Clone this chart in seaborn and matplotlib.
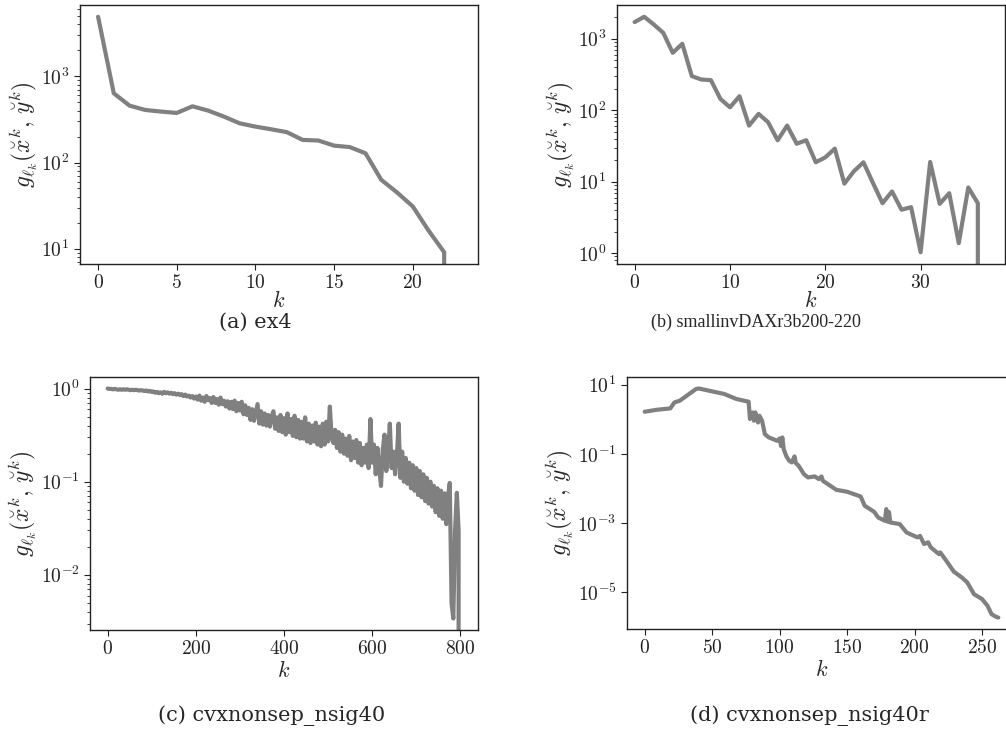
import numpy as np
import pandas as pd
import matplotlib
matplotlib.use("Agg")
import matplotlib.pyplot as plt
from matplotlib.ticker import FuncFormatter, NullFormatter
import seaborn as sns

# ---------------- data ----------------
# (a) ex4
k_a = list(range(0, 24))
g_a = [4910, 635, 457, 407, 390, 376, 449, 400, 341, 285, 261, 243, 225,
       183, 180, 157, 151, 128, 63, 45, 31, 16.3, 9.1, 0]

# (b) smallinvDAXr3b200-220
k_b = list(range(0, 38))
g_b = [1714, 2034, 1589, 1213, 637, 851, 300, 269, 264, 144, 110, 157, 61,
       89, 68, 38, 61, 34, 38, 18.7, 21.9, 29, 9.4, 14, 18.7, 9.6, 5.0, 7.3,
       4.05, 4.4, 1.03, 18.9, 4.9, 6.9, 1.38, 8.3, 5.0, 0]

# (c) cvxnonsep_nsig40  (sampled every 4 iterations)
k_c = list(range(0, 801, 4))
g_c = [1.00, 0.99, 0.99, 0.98, 0.99, 0.98, 0.97, 0.98, 0.97, 0.98,
       0.97, 0.98, 0.97, 0.96, 0.97, 0.96, 0.97, 0.96, 0.95, 0.96,
       0.95, 0.94, 0.95, 0.93, 0.94, 0.92, 0.93, 0.90, 0.92, 0.89,
       0.91, 0.88, 0.92, 0.89, 0.91, 0.88, 0.90, 0.87, 0.89, 0.86,
       0.88, 0.85, 0.87, 0.83, 0.86, 0.82, 0.84, 0.80, 0.83, 0.78,
       0.82, 0.76, 0.84, 0.74, 0.80, 0.72, 0.83, 0.75, 0.79, 0.70,
       0.81, 0.70, 0.77, 0.67, 0.80, 0.68, 0.74, 0.64, 0.73, 0.61,
       0.72, 0.60, 0.74, 0.57, 0.70, 0.58, 0.72, 0.53, 0.66, 0.52,
       0.62, 0.46, 0.60, 0.45, 0.55, 0.68, 0.42, 0.57, 0.41, 0.54,
       0.40, 0.52, 0.39, 0.50, 0.57, 0.37, 0.49, 0.35, 0.52, 0.34,
       0.48, 0.32, 0.54, 0.34, 0.47, 0.31, 0.51, 0.30, 0.46, 0.29,
       0.44, 0.29, 0.49, 0.27, 0.42, 0.26, 0.40, 0.27, 0.43, 0.25,
       0.39, 0.24, 0.42, 0.25, 0.44, 0.27, 0.64, 0.30, 0.26, 0.36,
       0.23, 0.34, 0.21, 0.32, 0.20, 0.29, 0.19, 0.31, 0.17, 0.27,
       0.18, 0.28, 0.16, 0.26, 0.15, 0.23, 0.16, 0.25, 0.14, 0.47,
       0.16, 0.25, 0.12, 0.23, 0.14, 0.09, 0.22, 0.32, 0.13, 0.20,
       0.42, 0.14, 0.21, 0.12, 0.19, 0.42, 0.11, 0.21, 0.10, 0.18,
       0.095, 0.16, 0.085, 0.15, 0.08, 0.14, 0.072, 0.13, 0.068, 0.12,
       0.062, 0.11, 0.058, 0.10, 0.054, 0.09, 0.047, 0.085, 0.043, 0.08,
       0.04, 0.075, 0.035, 0.07, 0.097, 0.005, 0.0034, 0.03, 0.076, 0.03,
       0]

# (d) cvxnonsep_nsig40r
k_d = [0, 9, 19, 22, 26, 38, 40, 51, 59, 68, 77, 78, 80, 81, 82, 84, 85, 87,
       89, 92, 95, 98, 100, 101, 102, 103, 105, 107, 109, 111, 112, 114, 118,
       121, 126, 129, 131, 132, 142, 150, 160, 163, 170, 173, 178, 179, 180,
       181, 182, 189, 194, 202, 204, 207, 210, 212, 218, 219, 223, 229, 235,
       239, 244, 250, 254, 257, 260, 262]
g_d = [1.66, 1.89, 2.07, 3.08, 3.45, 7.5, 7.8, 6.3, 5.4, 3.86, 3.23, 1.02,
       1.58, 0.91, 1.58, 0.81, 1.27, 0.91, 0.375, 0.30, 0.27, 0.24, 0.28,
       0.17, 0.30, 0.138, 0.085, 0.064, 0.057, 0.085, 0.054, 0.046, 0.026,
       0.021, 0.0224, 0.0188, 0.0224, 0.0168, 0.0092, 0.0081, 0.0059, 0.0032,
       0.00213, 0.00146, 0.00117, 0.00255, 0.0011, 0.0021, 0.00105, 0.00094,
       0.00054, 0.00039, 0.00043, 0.00025, 0.00028, 0.0002, 0.000128,
       0.000143, 8.7e-5, 4.0e-5, 2.7e-5, 1.94e-5, 8.9e-6, 6.4e-6, 4.1e-6,
       2.35e-6, 2.0e-6, 1.88e-6]

captions = ["(a) ex4", "(b) smallinvDAXr3b200-220",
            "(c) cvxnonsep_nsig40", "(d) cvxnonsep_nsig40r"]

# ---------------- style ----------------
sns.set_style("ticks")
plt.rcParams["font.family"] = ["DejaVu Serif"]
plt.rcParams["mathtext.fontset"] = "cm"
plt.rcParams["axes.edgecolor"] = "#222222"
plt.rcParams["xtick.color"] = "#222222"
plt.rcParams["ytick.color"] = "#222222"

W, H = 1006, 736
fig = plt.figure(figsize=(W / 100, H / 100), dpi=100)

# axes boxes in pixels: left, top, right, bottom
boxes = [(80, 5, 478, 264), (617, 5, 1005, 264),
         (90, 377, 478, 630), (627, 377, 1016, 629)]
datasets = [(k_a, g_a), (k_b, g_b), (k_c, g_c), (k_d, g_d)]
cap_pos = [(255, 322), (756, 322), (272, 716), (809, 716)]
cap_font = [("DejaVu Serif", 15), ("Liberation Serif", 13),
            ("DejaVu Serif", 15), ("DejaVu Serif", 15)]
xpads = [-2, -2, 1, 1]

xfmt = FuncFormatter(lambda v, p: rf"${v:g}$")
yfmt = FuncFormatter(lambda v, p: rf"$10^{{{int(round(np.log10(v)))}}}$" if v > 0 else "")
ylab = r"$g_{\ell_k}(\breve{x}^k,\,\breve{y}^k)$"

for (l, t, r, b), (kk, gg), cap, (cx, cy), (cf, cs), xp in zip(
        boxes, datasets, captions, cap_pos, cap_font, xpads):
    ax = fig.add_axes([l / W, 1 - b / H, (r - l) / W, (b - t) / H])
    df = pd.DataFrame({"k": kk, "g": gg})
    sns.lineplot(data=df, x="k", y="g", ax=ax, color="#808080",
                 linewidth=3, estimator=None)
    ax.set_yscale("log")
    ax.relim()
    ax.autoscale_view()
    ax.xaxis.set_major_formatter(xfmt)
    ax.yaxis.set_major_formatter(yfmt)
    ax.yaxis.set_minor_formatter(NullFormatter())
    ax.set_xlabel(r"$k$", fontsize=16, labelpad=xp)
    ax.set_ylabel(ylab, fontsize=17, labelpad=1)
    ax.tick_params(axis="both", which="major", labelsize=14, length=4)
    ax.tick_params(axis="both", which="minor", length=2)
    for s in ax.spines.values():
        s.set_linewidth(1.0)
    fig.text(cx / W, 1 - cy / H, cap, ha="center", va="center",
             fontsize=cs, family=[cf])

fig.savefig("out.png", dpi=100)
